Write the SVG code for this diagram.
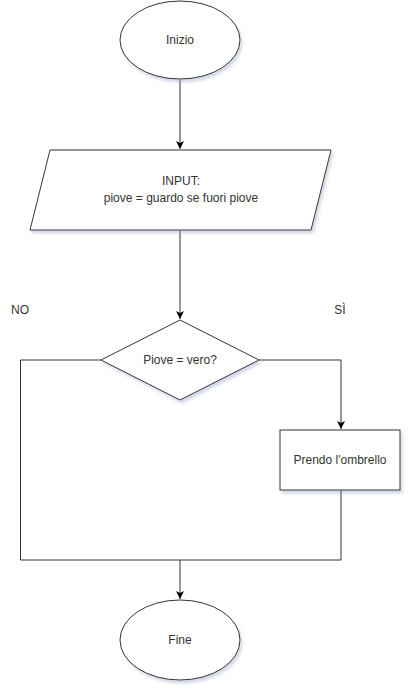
<svg xmlns="http://www.w3.org/2000/svg" width="412" height="692" viewBox="0 0 412 692">
<style>
.shape{fill:#ffffff;stroke:#333333;stroke-width:1;filter:url(#sh)}
.edge{fill:none;stroke:#333333;stroke-width:1}
text{font-family:"Liberation Sans",Arial,sans-serif;font-size:12px;fill:#333333;text-anchor:middle;dominant-baseline:central}
</style>
<defs>
<filter id="sh" x="-20%" y="-20%" width="150%" height="150%">
<feDropShadow dx="2" dy="3" stdDeviation="1.5" flood-color="#8090b0" flood-opacity="0.35"/>
</filter>
<marker id="arr" viewBox="0 0 10 10" refX="10" refY="5" markerWidth="8" markerHeight="8" markerUnits="userSpaceOnUse" orient="auto">
<path d="M0,0 L10,5 L0,10 L2.5,5 Z" fill="#000000"/>
</marker>
</defs>
<g id="connectors">
<path class="edge" d="M180,80 L180,149" marker-end="url(#arr)"/>
<path class="edge" d="M180,230 L180,319" marker-end="url(#arr)"/>
<path class="edge" d="M259,360 L341,360 L341,429" marker-end="url(#arr)"/>
<path class="edge" d="M101,360 L20.5,360 L20.5,560 L341,560 L341,490"/>
<path class="edge" d="M180,560 L180,599" marker-end="url(#arr)"/>
</g>
<g id="inizio">
<ellipse class="shape" cx="180" cy="40" rx="60" ry="39"/>
<text x="180" y="40">Inizio</text>
</g>
<g id="input">
<polygon class="shape" points="50,150 331,150 311,230 30,230"/>
<text x="181" y="181">INPUT:</text>
<text x="181" y="198">piove = guardo se fuori piove</text>
</g>
<g id="decisione">
<polygon class="shape" points="180,320 259,360 180,400 101,360"/>
<text x="180" y="360">Piove = vero?</text>
</g>
<g id="ombrello">
<rect class="shape" x="280" y="430" width="120" height="60"/>
<text x="340" y="460">Prendo l'ombrello</text>
</g>
<g id="fine">
<ellipse class="shape" cx="180" cy="640" rx="60" ry="40"/>
<text x="180" y="640">Fine</text>
</g>
<g id="labels">
<text x="20" y="310">NO</text>
<text x="340" y="310">SÌ</text>
</g>
</svg>
